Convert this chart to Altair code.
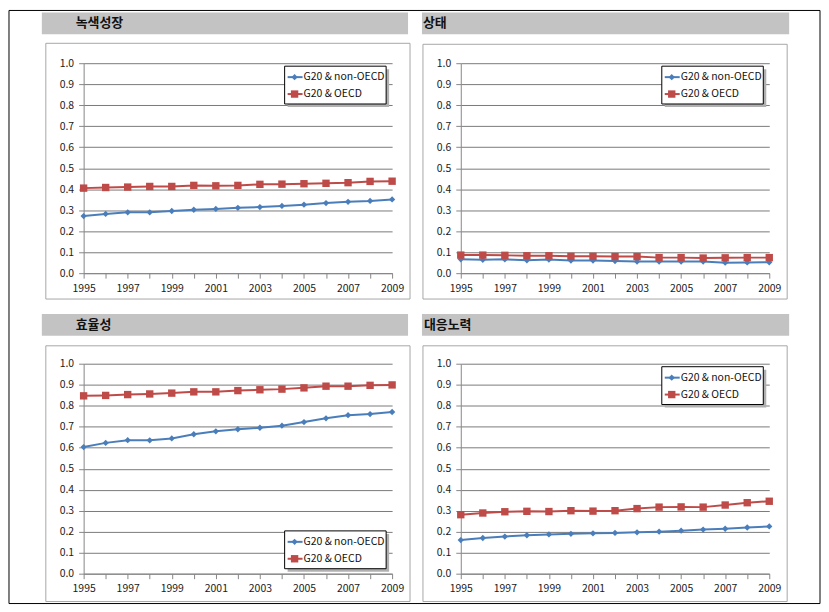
import altair as alt
import pandas as pd

years = list(range(1995, 2010))
series_names = ["G20 & non-OECD", "G20 & OECD"]
titles = ["녹색성장", "상태", "효율성", "대응노력"]

green_non = [0.272, 0.282, 0.290, 0.290, 0.296, 0.302, 0.306, 0.311, 0.315, 0.320, 0.326, 0.334, 0.340, 0.344, 0.351]
green_oecd = [0.405, 0.408, 0.410, 0.413, 0.413, 0.418, 0.416, 0.418, 0.423, 0.424, 0.426, 0.428, 0.431, 0.437, 0.438]
state_non = [0.066, 0.064, 0.066, 0.061, 0.065, 0.060, 0.060, 0.058, 0.055, 0.055, 0.055, 0.055, 0.050, 0.051, 0.052]
state_oecd = [0.086, 0.086, 0.085, 0.083, 0.083, 0.080, 0.080, 0.079, 0.079, 0.074, 0.074, 0.072, 0.073, 0.074, 0.074]
eff_non = [0.603, 0.623, 0.636, 0.635, 0.644, 0.664, 0.678, 0.688, 0.695, 0.705, 0.722, 0.740, 0.755, 0.760, 0.770]
eff_oecd = [0.847, 0.849, 0.853, 0.856, 0.860, 0.866, 0.866, 0.872, 0.876, 0.879, 0.885, 0.893, 0.893, 0.897, 0.899]
resp_non = [0.160, 0.170, 0.177, 0.183, 0.187, 0.190, 0.192, 0.194, 0.197, 0.200, 0.205, 0.210, 0.214, 0.220, 0.225]
resp_oecd = [0.281, 0.289, 0.295, 0.297, 0.296, 0.300, 0.298, 0.300, 0.310, 0.317, 0.318, 0.317, 0.327, 0.338, 0.345]

y_ticks = [round(i * 0.1, 1) for i in range(11)]

BLUE = "#4A7EBB"
RED = "#BE4B48"
FONT = "Noto Sans CJK KR"
W, H = 310, 211

one = pd.DataFrame({"k": [0]})


def deco_rect(x, x2, y, y2, **kw):
    return alt.Chart(one).mark_rect(**kw).encode(
        x=alt.value(x), x2=alt.value(x2), y=alt.value(y), y2=alt.value(y2)
    )


def panel(title, non, oecd, title_x, bar, frame, leg_top, outer=False):
    df = pd.DataFrame({
        "year": years * 2,
        "value": non + oecd,
        "series": [series_names[0]] * len(years) + [series_names[1]] * len(years),
    })
    x = alt.X("year:Q", title=None,
              scale=alt.Scale(domain=[1995, 2009], nice=False, zero=False),
              axis=alt.Axis(values=years, format="d", grid=False,
                            labelExpr="datum.value % 2 == 1 ? datum.label : ''",
                            labelFlush=False, labelOverlap=False,
                            tickSize=5, labelPadding=5))
    y = alt.Y("value:Q", title=None,
              scale=alt.Scale(domain=[0, 1], nice=False),
              axis=alt.Axis(values=y_ticks, format=".1f", grid=True,
                            gridColor="#7a7a7a", gridWidth=1,
                            tickSize=5, labelPadding=5, labelFlush=False,
                            labelOverlap=False))
    color = alt.Color("series:N", legend=None,
                      scale=alt.Scale(domain=series_names, range=[BLUE, RED]))
    base = alt.Chart(df).encode(x=x, y=y, color=color)
    lines = base.mark_line(strokeWidth=2)
    pts_non = base.transform_filter(alt.datum.series == series_names[0]).mark_point(
        shape="diamond", size=40, filled=True, opacity=1)
    pts_oecd = base.transform_filter(alt.datum.series == series_names[1]).mark_point(
        shape="square", size=55, filled=True, opacity=1)

    layers = []
    if outer:
        layers.append(deco_rect(-75, 740, -53, 543, fill="white", fillOpacity=0,
                                stroke="black", strokeWidth=1))
    layers.append(deco_rect(bar[0], bar[1], bar[2], bar[3], fill="#c3c3c3"))
    layers.append(alt.Chart(one).mark_text(text=title, align="left", baseline="middle",
                                           fontSize=13, fontWeight="bold", font=FONT,
                                           color="#111111").encode(
        x=alt.value(title_x), y=alt.value((bar[2] + bar[3]) / 2)))
    layers.append(deco_rect(frame[0], frame[1], frame[2], frame[3], fill="white",
                            fillOpacity=0, stroke="#a6a6a6", strokeWidth=1))
    layers += [lines, pts_non, pts_oecd]

    # legend box
    lx0, lx1 = 202, 304
    ly0, ly1 = leg_top, leg_top + 38
    layers.append(deco_rect(lx0 + 3, lx1 + 3, ly0 + 3, ly1 + 3, fill="#b0b0b0"))
    layers.append(deco_rect(lx0, lx1, ly0, ly1, fill="white", stroke="black", strokeWidth=1))
    for i, (name, col, shp, sz) in enumerate([(series_names[0], BLUE, "diamond", 40),
                                             (series_names[1], RED, "square", 55)]):
        yy = ly0 + 11 + 17 * i
        layers.append(alt.Chart(one).mark_rule(color=col, strokeWidth=2).encode(
            x=alt.value(lx0 + 3), x2=alt.value(lx0 + 18), y=alt.value(yy)))
        layers.append(alt.Chart(one).mark_point(shape=shp, size=sz, filled=True,
                                                opacity=1, color=col).encode(
            x=alt.value(lx0 + 10), y=alt.value(yy)))
        layers.append(alt.Chart(one).mark_text(text=name, align="left", baseline="middle",
                                               fontSize=10.5, font=FONT,
                                               color="#111111").encode(
            x=alt.value(lx0 + 19), y=alt.value(yy)))

    return alt.layer(*layers).properties(width=W, height=H)


p1 = panel(titles[0], green_non, green_oecd, -8, (-42, 326, -51, -29), (-38, 328, -20, 237), 3, outer=True)
p2 = panel(titles[1], state_non, state_oecd, -38, (-39, 330, -51, -29), (-38, 328, -19, 237), 3)
p3 = panel(titles[2], eff_non, eff_oecd, -8, (-42, 326, -50, -28), (-38, 328, -18, 239), 168)
p4 = panel(titles[3], resp_non, resp_oecd, -37, (-39, 330, -50, -28), (-38, 328, -18, 239), 3)

chart = alt.concat(p1, p2, p3, p4, columns=2, spacing={"row": 91, "column": 69},
                   bounds="flush").properties(padding=0).configure_view(
    strokeOpacity=0).configure_axis(
    labelFont=FONT, labelFontSize=10.5, labelColor="#1a1a1a",
    domainColor="#868686", tickColor="#868686")

chart.save("out.html", embed_options={"renderer": "svg", "actions": False})
